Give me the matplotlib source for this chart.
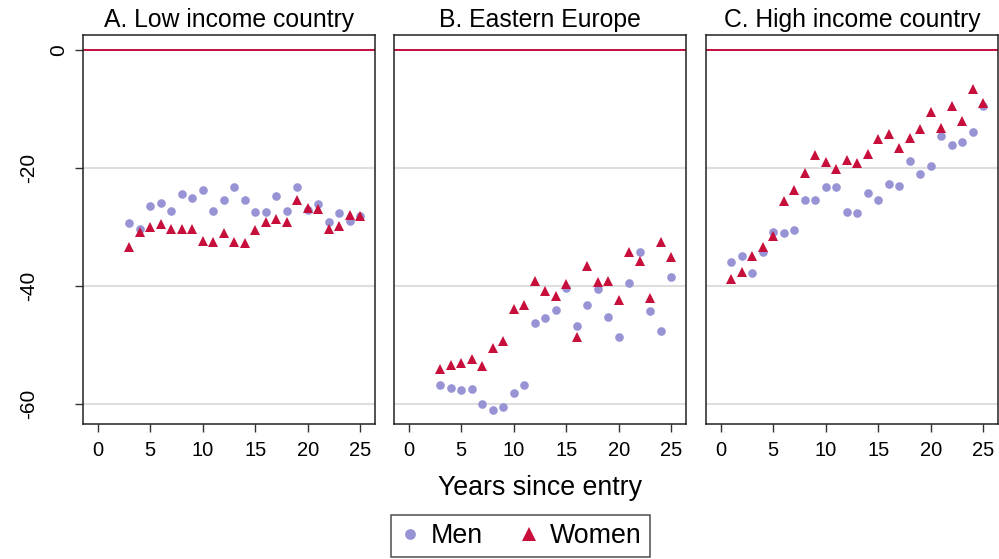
import numpy as np
import matplotlib.pyplot as plt
from matplotlib.transforms import ScaledTranslation

plt.rcParams['font.family'] = ['Liberation Sans', 'DejaVu Sans']

# Data (wage gap, percent, by years since entry)
yearsAB = list(range(3, 26))
yearsC = list(range(1, 26))

menA = [-29.4, -30.4, -26.4, -25.9, -27.3, -24.4, -25.1, -23.8, -27.3, -25.4, -23.3, -25.4,
        -27.5, -27.5, -24.8, -27.4, -23.3, -27.2, -26.2, -29.2, -27.7, -29.0, -28.1]
womenA = [-33.4, -30.9, -30.1, -29.5, -30.4, -30.4, -30.4, -32.4, -32.5, -31.0, -32.5, -32.7,
          -30.6, -29.1, -28.7, -29.2, -25.4, -26.8, -26.9, -30.4, -29.8, -28.0, -28.2]

menB = [-56.8, -57.3, -57.7, -57.5, -60.0, -61.1, -60.5, -58.1, -56.8, -46.3, -45.5, -44.1,
        -40.4, -46.8, -43.3, -40.6, -45.3, -48.6, -39.5, -34.2, -44.3, -47.7, -38.5]
womenB = [-54.0, -53.4, -53.1, -52.4, -53.6, -50.6, -49.3, -43.9, -43.3, -39.1, -40.8, -41.7,
          -39.7, -48.6, -36.6, -39.3, -39.2, -42.4, -34.3, -35.8, -42.1, -32.5, -35.1]

menC = [-36.0, -34.9, -37.9, -34.3, -30.8, -31.1, -30.6, -25.5, -25.5, -23.3, -23.3, -27.5,
        -27.7, -24.2, -25.4, -22.8, -23.1, -18.9, -21.1, -19.7, -14.6, -16.2, -15.6, -13.9, -9.5]
womenC = [-38.8, -37.7, -34.9, -33.4, -31.6, -25.7, -23.7, -20.8, -17.8, -19.0, -20.2, -18.7,
          -19.2, -17.7, -15.2, -14.2, -16.7, -15.0, -13.5, -10.6, -13.3, -9.5, -12.1, -6.6, -9.0]

titles = ["A. Low income country", "B. Eastern Europe", "C. High income country"]
xticks = [0, 5, 10, 15, 20, 25]
yticks = [0, -20, -40, -60]

menColor = "#9793d5"
womenColor = "#c80f3c"

panels = [
    (yearsAB, menA, womenA),
    (yearsAB, menB, womenB),
    (yearsC, menC, womenC),
]

fig = plt.figure(figsize=(9.99, 5.59), dpi=100)
lefts = [83 / 999, 394 / 999, 706 / 999]
axWidth = 292 / 999
bottom = 135 / 559
height = 389 / 559

for i, (yrs, men, women) in enumerate(panels):
    ax = fig.add_axes([lefts[i], bottom, axWidth, height])
    for y in [-20, -40, -60]:
        ax.axhline(y, color="#dedede", linewidth=1.5, zorder=0)
    ax.axhline(0, color="#c0103c", linewidth=1.4, zorder=1)
    ax.plot(yrs, men, "o", color=menColor, markersize=6.2, markeredgewidth=0, zorder=2, label="Men")
    ax.plot(yrs, women, "^", color=womenColor, markersize=7.8, markeredgewidth=0, zorder=3, label="Women")
    ax.set_xlim(-1.4, 26.4)
    ax.set_ylim(-63.4, 2.5)
    ax.set_xticks(xticks)
    ax.set_title(titles[i], fontsize=17.8, pad=6)
    for s in ax.spines.values():
        s.set_linewidth(1.1)
        s.set_color("#222222")
    ax.tick_params(axis="x", labelsize=14.5, length=6, width=1, color="#333333", pad=6)
    if i == 0:
        ax.set_yticks(yticks)
        ax.set_yticklabels([str(t) for t in yticks], rotation=90, va="center")
        ax.tick_params(axis="y", labelsize=15, length=6, width=1, color="#333333", pad=5)
        # the negative labels sit further out than "0" in the original
        for tick in ax.yaxis.get_major_ticks():
            if tick.label1.get_text() != "0":
                tick.label1.set_transform(tick.label1.get_transform()
                                          + ScaledTranslation(-0.30, 0, fig.dpi_scale_trans))
    else:
        ax.set_yticks([])
    if i == 1:
        ax.set_xlabel("Years since entry", fontsize=19.3, labelpad=11)
        handles, labels = ax.get_legend_handles_labels()

leg = fig.legend(handles, labels, loc="lower center", bbox_to_anchor=(0.521, 2 / 559), ncol=2,
                 fontsize=19.3, frameon=True, fancybox=False, edgecolor="#222222",
                 handlelength=0.8, handletextpad=0.4, columnspacing=1.3, borderpad=0.3,
                 borderaxespad=0, markerscale=1.25)
leg.get_frame().set_linewidth(1.1)

fig.savefig("out.png", dpi=100)
